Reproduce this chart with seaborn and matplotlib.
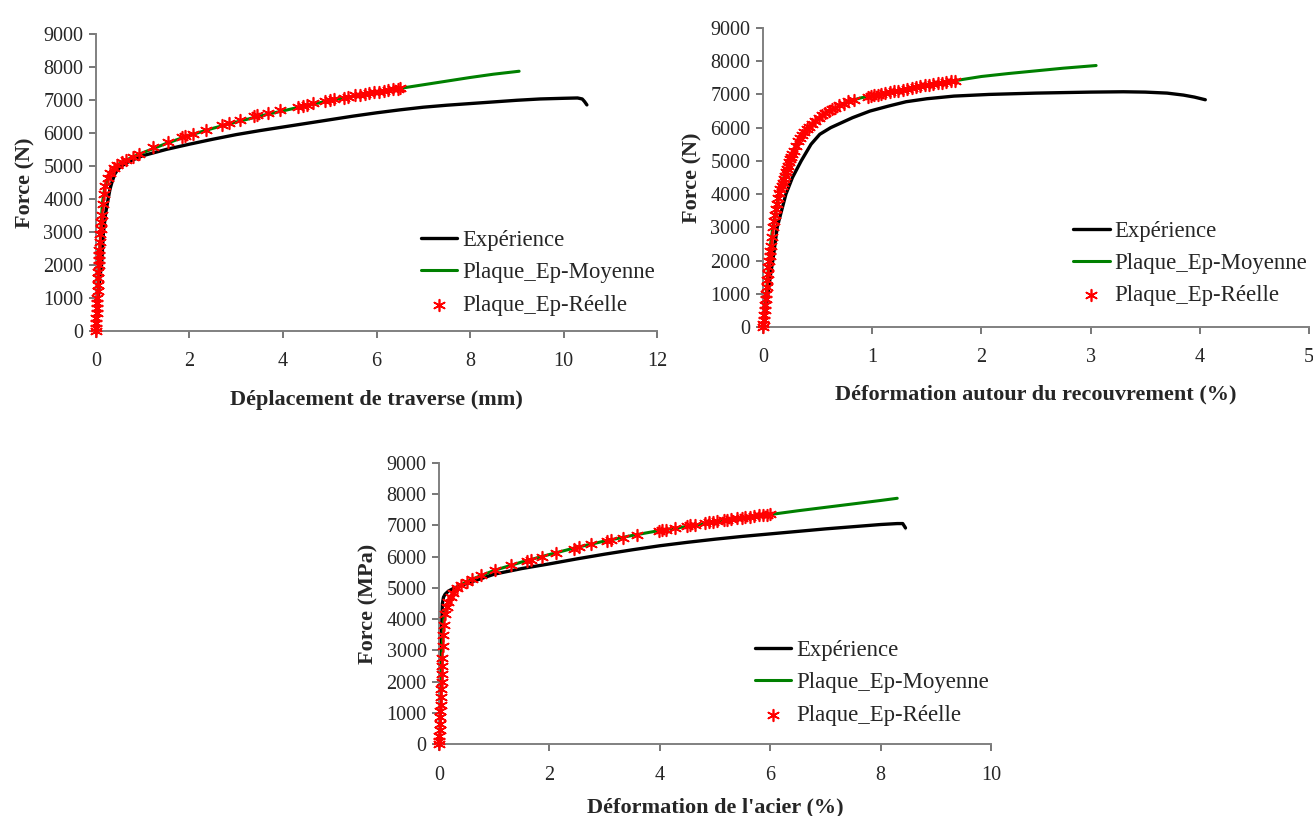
import matplotlib
matplotlib.use("Agg")
import matplotlib.pyplot as plt
import seaborn as sns

# ---- Chart 1 : Déplacement de traverse (mm)
x_exp1 = [0, 0.02, 0.05, 0.08, 0.12, 0.16, 0.21, 0.26, 0.30, 0.34, 0.40, 0.47, 0.55, 0.7, 1.0, 1.5, 2.0,
          2.5, 3.0, 3.5, 4.0, 4.5, 5.0, 5.5, 6.0, 6.5, 7.0, 7.5, 8.0, 8.5, 9.0, 9.5, 10.0, 10.3, 10.4,
          10.45, 10.5]
f_exp1 = [0, 400, 1000, 1600, 2000, 3000, 3600, 4000, 4300, 4500, 4750, 4900, 5000, 5130, 5310, 5500,
          5660, 5810, 5950, 6070, 6180, 6290, 6400, 6510, 6610, 6700, 6780, 6840, 6890, 6940, 6990,
          7030, 7050, 7060, 7030, 6950, 6850]
x_moy1 = [0, 0.02, 0.04, 0.06, 0.08, 0.10, 0.12, 0.14, 0.17, 0.20, 0.25, 0.30, 0.40, 0.50, 0.65, 0.80,
          1.0, 1.5, 2.0, 2.5, 3.0, 3.5, 4.0, 4.5, 5.0, 5.5, 6.0, 6.5, 7.0, 7.5, 8.0, 8.5, 9.05]
f_moy1 = [0, 400, 1000, 1700, 2400, 3000, 3500, 3900, 4200, 4400, 4620, 4780, 4960, 5060, 5180, 5280,
          5400, 5680, 5930, 6140, 6330, 6510, 6670, 6830, 6980, 7110, 7230, 7350, 7460, 7570, 7680,
          7780, 7870]
x_reel1 = [0, 0, 0.005, 0.01, 0.015, 0.02, 0.025, 0.03, 0.035, 0.04, 0.045, 0.05, 0.055, 0.06, 0.065,
           0.07, 0.08, 0.09, 0.1, 0.11, 0.12, 0.14, 0.17, 0.2, 0.25, 0.3, 0.38, 0.45, 0.55, 0.65, 0.8,
           0.93, 1.23, 1.53, 1.83, 1.9, 2.08, 2.35, 2.7, 2.85, 3.07, 3.38, 3.45, 3.67, 3.93, 4.32, 4.42,
           4.52, 4.65, 4.9, 5.0, 5.1, 5.3, 5.4, 5.55, 5.65, 5.75, 5.85, 5.95, 6.05, 6.15, 6.25, 6.35,
           6.45, 6.5]
f_reel1 = [0, 100, 250, 400, 550, 700, 850, 1000, 1200, 1400, 1600, 1800, 2000, 2150, 2300, 2450, 2700,
           2950, 3100, 3300, 3500, 3850, 4150, 4400, 4620, 4780, 4930, 5030, 5110, 5180, 5280, 5360,
           5560, 5720, 5870, 5900, 5980, 6100, 6250, 6310, 6390, 6510, 6540, 6610, 6690, 6800, 6830,
           6860, 6900, 6960, 6990, 7020, 7070, 7100, 7140, 7160, 7180, 7200, 7230, 7250, 7280, 7300,
           7320, 7340, 7350]

# ---- Chart 2 : Déformation autour du recouvrement (%)
x_exp2 = [0, 0.01, 0.03, 0.046, 0.07, 0.09, 0.13, 0.17, 0.21, 0.27, 0.35, 0.44, 0.52, 0.62, 0.72, 0.82,
          0.98, 1.15, 1.31, 1.5, 1.75, 2.07, 2.5, 3.0, 3.3, 3.5, 3.7, 3.85, 3.95, 4.05]
f_exp2 = [0, 200, 600, 1000, 1600, 2000, 3000, 3500, 4000, 4500, 5000, 5500, 5800, 6000, 6150, 6300,
          6500, 6650, 6780, 6870, 6950, 7000, 7040, 7070, 7080, 7070, 7040, 6980, 6920, 6840]
x_moy2 = [0, 0.01, 0.03, 0.055, 0.07, 0.09, 0.12, 0.146, 0.18, 0.21, 0.244, 0.305, 0.36, 0.41, 0.5,
          0.6, 0.7, 0.79, 0.9, 1.07, 1.2, 1.37, 1.5, 1.77, 2.0, 2.25, 2.5, 2.75, 3.05]
f_moy2 = [0, 300, 1000, 2000, 2500, 3000, 3500, 4000, 4400, 4700, 5000, 5500, 5800, 6000, 6250, 6500,
          6650, 6800, 6900, 7000, 7100, 7200, 7300, 7420, 7540, 7630, 7710, 7790, 7870]
x_reel2 = [0, 0, 0.005, 0.01, 0.015, 0.02, 0.025, 0.03, 0.035, 0.04, 0.045, 0.05, 0.055, 0.06, 0.065,
           0.07, 0.08, 0.09, 0.10, 0.11, 0.12, 0.13, 0.14, 0.15, 0.16, 0.17, 0.18, 0.19, 0.20, 0.21,
           0.22, 0.23, 0.24, 0.25, 0.26, 0.27, 0.28, 0.30, 0.32, 0.34, 0.36, 0.38, 0.40, 0.42, 0.45,
           0.48, 0.51, 0.54, 0.57, 0.60, 0.63, 0.66, 0.70, 0.74, 0.78, 0.83, 0.96, 0.99, 1.02, 1.05,
           1.08, 1.12, 1.16, 1.20, 1.24, 1.28, 1.32, 1.36, 1.40, 1.44, 1.48, 1.52, 1.56, 1.60, 1.64,
           1.68, 1.72, 1.76]
f_reel2 = [0, 100, 200, 350, 500, 670, 830, 1000, 1200, 1400, 1600, 1800, 2000, 2150, 2300, 2450, 2720,
           3000, 3180, 3360, 3540, 3710, 3890, 4040, 4140, 4240, 4340, 4440, 4550, 4650, 4750, 4850,
           4960, 5050, 5130, 5210, 5300, 5460, 5590, 5690, 5790, 5880, 5960, 6030, 6120, 6210, 6300,
           6370, 6430, 6500, 6550, 6600, 6670, 6720, 6790, 6830, 6930, 6950, 6970, 6990, 7010, 7030,
           7060, 7090, 7110, 7140, 7170, 7190, 7220, 7240, 7270, 7290, 7310, 7330, 7350, 7370, 7390,
           7400]

# ---- Chart 3 : Déformation de l'acier (%)
x_exp3 = [0, 0.01, 0.02, 0.03, 0.04, 0.05, 0.06, 0.08, 0.11, 0.17, 0.28, 0.4, 0.6, 0.8, 1.0, 1.5, 2.0,
          2.5, 3.0, 3.5, 4.0, 4.5, 5.0, 5.5, 6.0, 6.5, 7.0, 7.5, 8.0, 8.3, 8.4, 8.45, 8.45]
f_exp3 = [0, 800, 1800, 2600, 3300, 3900, 4500, 4700, 4800, 4900, 5000, 5080, 5200, 5320, 5440, 5620,
          5770, 5930, 6080, 6220, 6350, 6460, 6560, 6650, 6730, 6810, 6890, 6960, 7030, 7060, 7060,
          7000, 6840]
x_moy3 = [0, 0.02, 0.04, 0.055, 0.07, 0.087, 0.12, 0.165, 0.22, 0.32, 0.45, 0.6, 0.8, 1.0, 1.5, 2.0,
          2.5, 3.0, 3.5, 4.0, 4.5, 5.0, 5.5, 6.0, 6.5, 7.0, 7.5, 8.0, 8.3]
f_moy3 = [0, 1000, 2200, 3000, 3500, 4000, 4300, 4500, 4750, 5000, 5150, 5280, 5420, 5560, 5830, 6070,
          6300, 6500, 6680, 6840, 6970, 7100, 7230, 7350, 7470, 7580, 7690, 7800, 7870]
x_reel3 = [0, 0, 0.005, 0.01, 0.015, 0.02, 0.025, 0.03, 0.035, 0.04, 0.045, 0.05, 0.055, 0.06, 0.07,
           0.08, 0.09, 0.11, 0.14, 0.17, 0.21, 0.26, 0.32, 0.4, 0.5, 0.6, 0.76, 1.01, 1.31, 1.60, 1.66,
           1.86, 2.11, 2.45, 2.54, 2.75, 3.05, 3.12, 3.33, 3.59, 3.98, 4.04, 4.11, 4.27, 4.49, 4.55,
           4.63, 4.81, 4.89, 4.96, 5.04, 5.16, 5.22, 5.28, 5.40, 5.48, 5.55, 5.63, 5.71, 5.79, 5.87,
           5.95, 6.0]
f_reel3 = [0, 100, 250, 450, 650, 850, 1050, 1250, 1500, 1750, 2000, 2250, 2500, 2750, 3150, 3500,
           3800, 4150, 4400, 4550, 4700, 4850, 5000, 5100, 5200, 5270, 5400, 5560, 5730, 5870, 5900,
           5990, 6110, 6260, 6300, 6390, 6500, 6530, 6600, 6690, 6830, 6850, 6870, 6920, 6990, 7010,
           7030, 7080, 7100, 7120, 7140, 7170, 7180, 7200, 7230, 7250, 7260, 7280, 7300, 7320, 7340,
           7350, 7360]

labels = ["Expérience", "Plaque_Ep-Moyenne", "Plaque_Ep-Réelle"]
y_ticks = list(range(0, 9001, 1000))

sns.set_theme(style="white")
plt.rcParams["font.family"] = ["Liberation Serif", "DejaVu Serif"]

fig = plt.figure(figsize=(13.13, 8.16), dpi=100)

panels = [
    dict(rect=[0.0731, 0.5944, 0.4273, 0.3640], data=(x_exp1, f_exp1, x_moy1, f_moy1, x_reel1, f_reel1),
         xlim=(0, 12), xticks=list(range(0, 13, 2)), xlabel="Déplacement de traverse (mm)",
         ylabel="Force (N)", leg=(0.579, 0.340), xpad=13),
    dict(rect=[0.5811, 0.5993, 0.4159, 0.3664], data=(x_exp2, f_exp2, x_moy2, f_moy2, x_reel2, f_reel2),
         xlim=(0, 5), xticks=list(range(0, 6)), xlabel="Déformation autour du recouvrement (%)",
         ylabel="Force (N)", leg=(0.568, 0.356), xpad=12),
    dict(rect=[0.3344, 0.0882, 0.4204, 0.3444], data=(x_exp3, f_exp3, x_moy3, f_moy3, x_reel3, f_reel3),
         xlim=(0, 10), xticks=list(range(0, 11, 2)), xlabel="Déformation de l'acier (%)",
         ylabel="Force (MPa)", leg=(0.572, 0.371), xpad=9),
]

for p in panels:
    ax = fig.add_axes(p["rect"])
    xe, fe, xm, fm, xr, fr = p["data"]
    sns.lineplot(x=xe, y=fe, sort=False, color="black", lw=2.4, ax=ax, label=labels[0])
    sns.lineplot(x=xm, y=fm, sort=False, color="#008000", lw=2.2, ax=ax, label=labels[1])
    sns.scatterplot(x=xr, y=fr, marker=(6, 2, 0), color="red", s=70, linewidth=1.2, ax=ax,
                    label=labels[2], zorder=3, clip_on=False)

    ax.set_xlim(*p["xlim"])
    ax.set_ylim(0, 9000)
    ax.set_xticks(p["xticks"])
    ax.set_yticks(y_ticks)
    for side in ["top", "right"]:
        ax.spines[side].set_visible(False)
    for side in ["left", "bottom"]:
        ax.spines[side].set_color("#808080")
        ax.spines[side].set_linewidth(1.4)
    ax.tick_params(axis="x", direction="out", length=5, width=1.2, color="#606060", pad=10.5,
                   labelsize=14.5, bottom=True)
    ax.tick_params(axis="y", direction="out", length=5, width=1.2, color="#606060", pad=4,
                   labelsize=14.5, left=True)
    ax.set_xlabel(p["xlabel"], fontsize=16, fontweight="bold", labelpad=p["xpad"])
    ax.set_ylabel(p["ylabel"], fontsize=16, fontweight="bold", labelpad=6)
    ax.legend(loc="upper left", bbox_to_anchor=p["leg"], frameon=False, fontsize=16.4,
              handlelength=1.6, handletextpad=0.2, labelspacing=0.5, borderaxespad=0, borderpad=0)
    ax.grid(False)

fig.savefig("out.png", dpi=100)
